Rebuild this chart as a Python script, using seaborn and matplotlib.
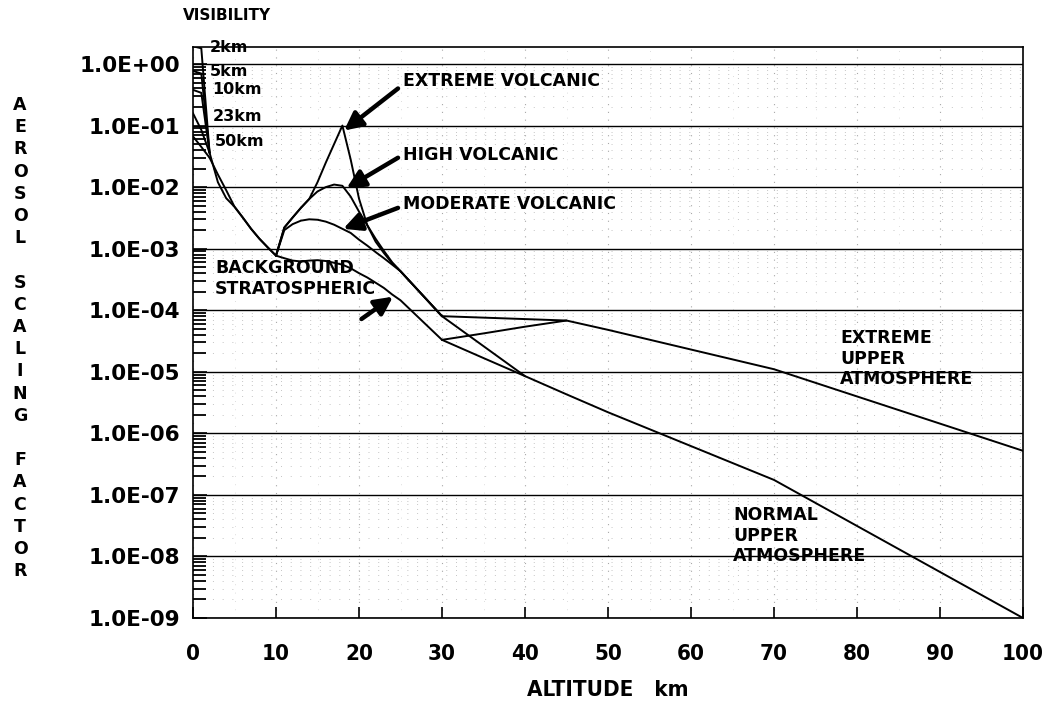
import matplotlib
matplotlib.use("Agg")
import matplotlib.pyplot as plt
import numpy as np
import pandas as pd
import seaborn as sns
from matplotlib.ticker import FixedLocator, FuncFormatter, NullFormatter, LogLocator, MultipleLocator

# ---------------------------------------------------------------------------
# Altitude grids (km)
alt_boundary = [0, 1, 2]
alt_tropo = [2, 3, 4, 5, 6, 7, 8, 9, 10]
alt_strat = [10, 11, 12, 13, 14, 15, 16, 17, 18, 19, 20, 21, 22, 23, 24, 25, 30]
alt_upper = [30, 35, 40, 45, 50, 70, 100]

# Boundary layer (0-2 km), one profile per surface visibility
visibility_labels = ["2km", "5km", "10km", "23km", "50km"]
boundary_2km = [1.94, 1.80, 0.036]
boundary_5km = [0.77, 0.70, 0.036]
boundary_10km = [0.38, 0.34, 0.036]
boundary_23km = [0.158, 0.085, 0.036]
boundary_50km = [0.0666, 0.045, 0.030]

# Troposphere (2-10 km)
tropo_23km = [0.036, 0.012, 0.0066, 0.0048, 0.0032, 0.0021, 0.00145, 0.00105, 0.00077]
tropo_50km = [0.030, 0.016, 0.0089, 0.0048, 0.0032, 0.0021, 0.00145, 0.00105, 0.00077]

# Stratosphere (10-30 km)
strat_background = [7.7e-4, 7.0e-4, 6.4e-4, 6.2e-4, 6.4e-4, 6.5e-4, 6.3e-4, 5.9e-4, 5.5e-4,
                    4.8e-4, 4.0e-4, 3.4e-4, 2.8e-4, 2.3e-4, 1.8e-4, 1.45e-4, 3.3e-5]
strat_moderate = [7.7e-4, 2.0e-3, 2.5e-3, 2.85e-3, 3.0e-3, 2.95e-3, 2.75e-3, 2.45e-3, 2.1e-3,
                  1.8e-3, 1.4e-3, 1.12e-3, 8.8e-4, 7.0e-4, 5.5e-4, 4.3e-4, 8.0e-5]
strat_high = [7.7e-4, 2.2e-3, 3.2e-3, 4.6e-3, 6.4e-3, 8.5e-3, 1.0e-2, 1.1e-2, 1.05e-2,
              7.0e-3, 4.0e-3, 2.4e-3, 1.45e-3, 9.2e-4, 6.0e-4, 4.3e-4, 8.0e-5]
strat_extreme = [7.7e-4, 2.2e-3, 3.2e-3, 4.6e-3, 6.4e-3, 1.2e-2, 2.5e-2, 5.0e-2, 1.0e-1,
                 2.8e-2, 6.5e-3, 2.4e-3, 1.3e-3, 8.5e-4, 5.8e-4, 4.3e-4, 8.0e-5]

# Upper atmosphere (30-100 km)
upper_normal = [3.3e-5, 1.67e-5, 8.5e-6, 4.3e-6, 2.2e-6, 1.75e-7, 1.0e-9]
upper_extreme = [3.3e-5, 4.2e-5, 5.4e-5, 6.8e-5, 4.8e-5, 1.1e-5, 5.2e-7]
alt_volc_to_normal = [30, 40]
volc_to_normal = [8.0e-5, 8.5e-6]
alt_volc_to_extreme = [30, 45]
volc_to_extreme = [8.0e-5, 6.8e-5]

x_ticks = list(range(0, 101, 10))
y_ticks = [1e-9, 1e-8, 1e-7, 1e-6, 1e-5, 1e-4, 1e-3, 1e-2, 1e-1, 1e0]

# ---------------------------------------------------------------------------
profiles = [
    ("bl_2", alt_boundary, boundary_2km),
    ("bl_5", alt_boundary, boundary_5km),
    ("bl_10", alt_boundary, boundary_10km),
    ("bl_23", alt_boundary, boundary_23km),
    ("bl_50", alt_boundary, boundary_50km),
    ("tr_23", alt_tropo, tropo_23km),
    ("tr_50", alt_tropo, tropo_50km),
    ("st_bg", alt_strat, strat_background),
    ("st_mod", alt_strat, strat_moderate),
    ("st_high", alt_strat, strat_high),
    ("st_ext", alt_strat, strat_extreme),
    ("up_norm", alt_upper, upper_normal),
    ("up_ext", alt_upper, upper_extreme),
    ("up_vn", alt_volc_to_normal, volc_to_normal),
    ("up_ve", alt_volc_to_extreme, volc_to_extreme),
]
frames = [pd.DataFrame({"altitude": a, "scaling": v, "profile": name}) for name, a, v in profiles]
df = pd.concat(frames, ignore_index=True)

sns.set_theme(style="white")
plt.rcParams["font.family"] = ["DejaVu Sans"]
plt.rcParams["font.weight"] = "bold"
plt.rcParams["axes.labelweight"] = "bold"
for key in ("text.color", "axes.labelcolor", "xtick.color", "ytick.color", "axes.edgecolor"):
    plt.rcParams[key] = "black"
plt.rcParams["axes.linewidth"] = 1.2

fig = plt.figure(figsize=(10.53, 7.08), dpi=100)
ax = fig.add_axes([193 / 1053, 90 / 708, 830 / 1053, 571.3 / 708])

sns.lineplot(data=df, x="altitude", y="scaling", units="profile", estimator=None,
             sort=False, color="black", linewidth=1.4, legend=False, ax=ax)

ax.set_yscale("log")
ax.set_xlim(0, 100)
ax.set_ylim(1e-9, 1.91)

ax.xaxis.set_major_locator(FixedLocator(x_ticks))
ax.xaxis.set_minor_locator(MultipleLocator(5))
ax.yaxis.set_major_locator(FixedLocator(y_ticks))
ax.yaxis.set_minor_locator(LogLocator(base=10, subs=range(2, 10)))
ax.yaxis.set_major_formatter(FuncFormatter(lambda v, p: f"{v:.1E}"))
ax.yaxis.set_minor_formatter(NullFormatter())

ax.grid(which="major", axis="y", color="black", linewidth=1.0, linestyle="-")
ax.grid(which="minor", axis="y", color="#c4c4c4", linewidth=0.7, linestyle=(0, (1, 9)))
ax.grid(which="major", axis="x", color="#a8a8a8", linewidth=0.8, linestyle=(0, (1, 6)))
ax.grid(which="minor", axis="x", color="#d2d2d2", linewidth=0.6, linestyle=(0, (1, 9)))
ax.set_axisbelow(True)

ax.tick_params(axis="x", which="major", bottom=True, direction="in", length=8, width=1.2,
               labelsize=16, pad=19)
ax.tick_params(axis="x", which="minor", bottom=False, length=0)
ax.tick_params(axis="y", which="major", left=True, direction="in", length=10, width=1.2,
               labelsize=15.5, pad=9)
ax.tick_params(axis="y", which="minor", left=True, direction="in", length=9, width=1.3)
for lab in ax.get_xticklabels():
    lab.set_fontstretch("condensed")
for s in ax.spines.values():
    s.set_visible(True)
    s.set_color("black")
    s.set_linewidth(1.2)

ax.set_xlabel("ALTITUDE   km", fontsize=16, fontweight="bold", va="center",
              fontstretch="condensed")
ax.xaxis.set_label_coords(0.5, (618 - 690) / 571.3)
ax.set_ylabel("\n".join("AEROSOL SCALING FACTOR"), rotation=0, fontsize=12.5,
              fontweight="bold", ha="center", va="center", linespacing=1.30)
ax.yaxis.set_label_coords((20 - 193) / 830, 0.49)

# Visibility labels for the boundary-layer curves
ax.text(-1.2, 6.2, "VISIBILITY", fontsize=11, ha="left", va="center", clip_on=False)
vis_label_pos = [(2.05, 1.86), (2.05, 0.75), (2.3, 0.38), (2.4, 0.138), (2.65, 0.056)]
for lab, (xx, yy) in zip(visibility_labels, vis_label_pos):
    ax.text(xx, yy, lab, fontsize=11.5, ha="left", va="center")

# Stratospheric model labels with arrows
arrow_kw = dict(arrowstyle="-|>,head_length=0.9,head_width=0.45", color="black",
                linewidth=3.2, shrinkA=0, shrinkB=0)
ax.text(25.3, 0.53, "EXTREME VOLCANIC", fontsize=12.5, ha="left", va="center")
ax.annotate("", xy=(18.2, 0.083), xytext=(24.7, 0.40), arrowprops=arrow_kw)
ax.text(25.3, 0.0333, "HIGH VOLCANIC", fontsize=12.5, ha="left", va="center")
ax.annotate("", xy=(18.5, 0.0096), xytext=(24.7, 0.030), arrowprops=arrow_kw)
ax.text(25.3, 5.35e-3, "MODERATE VOLCANIC", fontsize=12.5, ha="left", va="center")
ax.annotate("", xy=(18.1, 2.1e-3), xytext=(24.7, 4.6e-3), arrowprops=arrow_kw)
ax.text(2.65, 3.23e-4, "BACKGROUND\nSTRATOSPHERIC", fontsize=12.5, ha="left",
        va="center", linespacing=1.2)
ax.annotate("", xy=(24.1, 1.66e-4), xytext=(20.3, 7.2e-5), arrowprops=arrow_kw)

# Upper atmosphere labels
ax.text(77.95, 1.63e-5, "EXTREME\nUPPER\nATMOSPHERE", fontsize=12.5, ha="left",
        va="center", linespacing=1.18)
ax.text(65.06, 2.18e-8, "NORMAL\nUPPER\nATMOSPHERE", fontsize=12.5, ha="left",
        va="center", linespacing=1.18)

fig.savefig("out.png", dpi=100, facecolor="white")
